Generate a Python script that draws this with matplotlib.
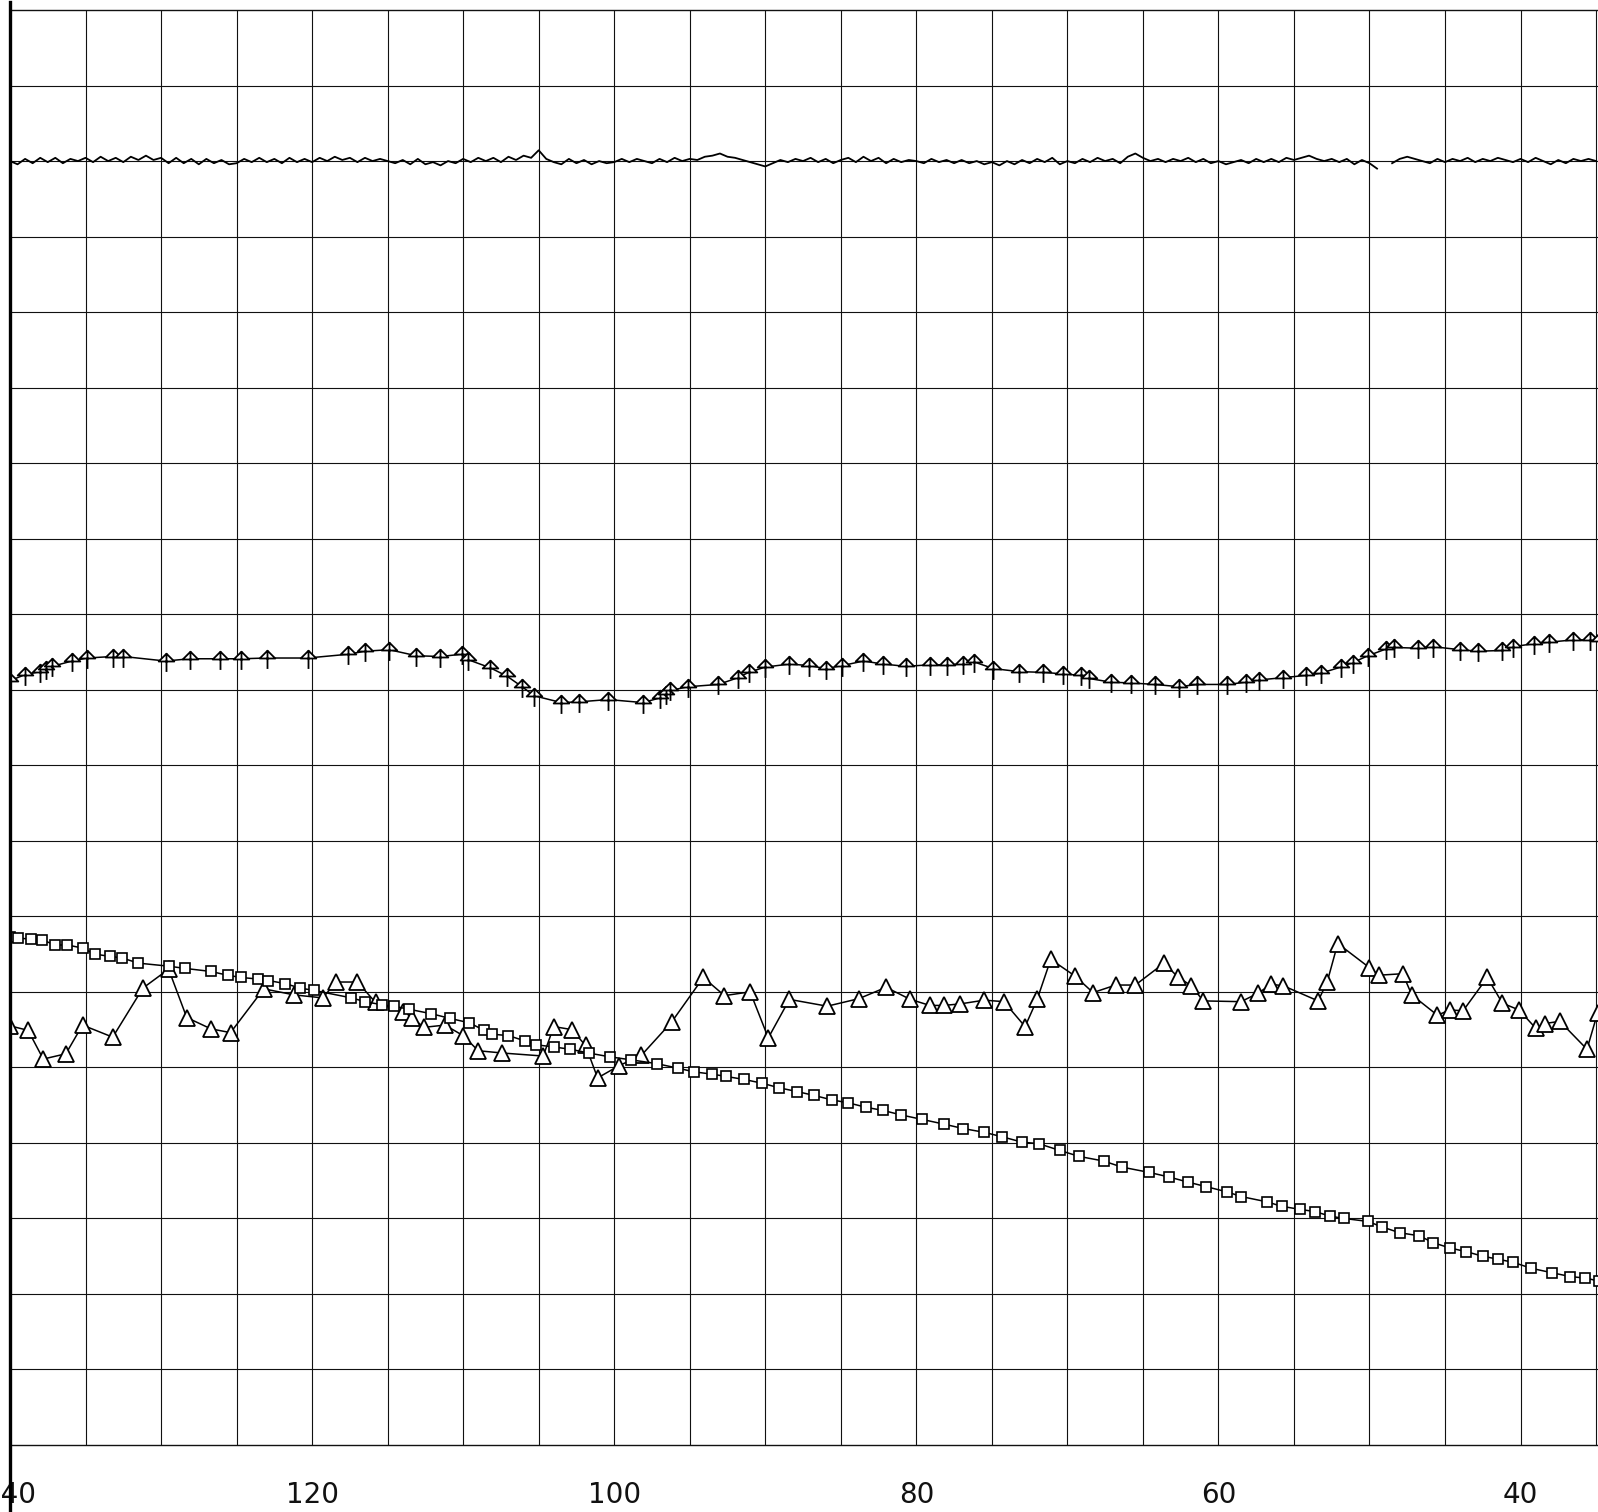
import numpy as np
import matplotlib
matplotlib.use("Agg")
import matplotlib.pyplot as plt
from matplotlib.path import Path
from matplotlib.lines import Line2D

# ---------------- data (x in plot units, y in grid-cell units) ----------------
tick_values = [140, 120, 100, 80, 60, 40]
tick_labels = ["140", "120", "100", "80", "60", "40"]

# top noisy trace: sampled every 0.5 units from 140 to 35, offsets in 1/70 cell from 17.0
trace_x = np.arange(140.0, 34.9, -0.5)
trace_base = 17.0
trace_offsets = [
    0, -3, 2, -2, 3, -1, 3, -2, 2, 0,
    3, -1, 4, 0, 3, -1, 4, 1, 5, 1,
    3, -2, 3, -2, 2, -3, 2, -2, 1, -3,
    -2, 2, -1, 3, -1, 2, -2, 3, -1, 2,
    -1, 3, 0, 4, 1, 3, -1, 3, 0, 2,
    0, -2, 1, -3, 2, -3, -1, -4, 0, -2,
    2, -1, 3, 0, 3, -1, 4, 1, 5, 3,
    10, 2, -1, -3, 2, -2, 1, -3, 0, -2,
    -1, 2, -1, 2, 0, -2, 2, -1, 3, 0,
    2, 1, 4, 5, 7, 4, 3, 1, -1, -3,
    -5, -2, 1, -1, 2, 0, 3, -1, 2, -2,
    1, 3, -1, 4, 0, 3, -2, 2, -1, 1,
    0, -2, 2, -1, 1, -2, 1, -2, 0, -3,
    -1, -4, 0, -3, 1, -2, 2, -1, 3, -3,
    0, -2, 2, -1, 3, 0, 2, -2, 4, 7,
    3, 0, 2, -1, 2, 0, 3, -1, 2, -2,
    0, -3, -1, 1, -2, 2, -1, 2, -1, 3,
    1, 3, 5, 2, 0, 2, -1, 2, -3, 1,
    -2, -7, np.nan, -2, 2, 4, 2, 0, -2, 2,
    -1, 2, 0, 3, -1, 2, 0, 3, 1, -1,
    2, -1, 3, 0, -3, 1, -2, 2, 0, 2,
    0,
]

# arrow-marker series
arrow_x = [140.0, 139.0, 138.0, 137.6, 137.2, 135.9, 134.9, 133.2, 132.5, 129.7,
           128.1, 126.1, 124.7, 123.0, 120.3, 117.6, 116.5, 114.9, 113.1, 111.5,
           110.1, 109.7, 108.2, 107.1, 106.1, 105.3, 103.5, 102.3, 100.4, 98.1,
           97.0, 96.6, 96.3, 95.1, 93.1, 91.8, 91.1, 90.0, 88.4, 87.1,
           86.0, 84.9, 83.5, 82.2, 80.7, 79.1, 78.0, 76.9, 76.2, 74.9,
           73.2, 71.6, 70.3, 69.1, 68.6, 67.1, 65.8, 64.2, 62.6, 61.4,
           59.4, 58.2, 57.3, 55.7, 54.2, 53.2, 51.9, 51.1, 50.1, 48.9,
           48.4, 46.8, 45.8, 44.0, 42.8, 41.2, 40.5, 39.1, 38.1, 36.5,
           35.4, 34.8]
arrow_y = [10.12, 10.20, 10.24, 10.27, 10.31, 10.38, 10.42, 10.44, 10.44, 10.38,
           10.41, 10.41, 10.41, 10.42, 10.42, 10.47, 10.51, 10.53, 10.45, 10.44,
           10.47, 10.40, 10.29, 10.18, 10.04, 9.92, 9.83, 9.84, 9.87, 9.83,
           9.89, 9.94, 9.99, 10.04, 10.07, 10.16, 10.23, 10.30, 10.34, 10.32,
           10.28, 10.32, 10.38, 10.34, 10.31, 10.33, 10.33, 10.34, 10.37, 10.28,
           10.24, 10.23, 10.21, 10.19, 10.15, 10.10, 10.09, 10.07, 10.04, 10.07,
           10.07, 10.10, 10.13, 10.16, 10.19, 10.22, 10.30, 10.36, 10.45, 10.54,
           10.56, 10.55, 10.57, 10.53, 10.51, 10.52, 10.57, 10.61, 10.63, 10.66,
           10.66, 10.65]

# triangle series
tri_x = [140.0, 138.8, 137.8, 136.3, 135.2, 133.2, 131.2, 129.5, 128.3, 126.7,
         125.4, 123.2, 121.2, 119.3, 118.4, 117.0, 115.8, 114.0, 113.4, 112.6,
         111.2, 110.0, 109.0, 107.4, 104.7, 104.0, 102.8, 101.9, 101.1, 99.7,
         98.2, 96.2, 94.1, 92.7, 91.0, 89.8, 88.4, 85.9, 83.8, 82.0,
         80.4, 79.1, 78.2, 77.1, 75.5, 74.2, 72.8, 72.0, 71.1, 69.5,
         68.3, 66.8, 65.5, 63.6, 62.7, 61.8, 61.0, 58.5, 57.4, 56.5,
         55.7, 53.4, 52.8, 52.1, 50.0, 49.4, 47.8, 47.2, 45.5, 44.7,
         43.8, 42.2, 41.2, 40.1, 39.0, 38.4, 37.4, 35.6, 34.9]
tri_y = [5.55, 5.49, 5.11, 5.18, 5.56, 5.40, 6.05, 6.30, 5.66, 5.51,
         5.46, 6.04, 5.96, 5.92, 6.13, 6.13, 5.86, 5.73, 5.66, 5.53,
         5.56, 5.42, 5.22, 5.19, 5.15, 5.54, 5.50, 5.29, 4.86, 5.02,
         5.16, 5.60, 6.19, 5.95, 6.00, 5.39, 5.90, 5.81, 5.91, 6.06,
         5.90, 5.82, 5.82, 5.84, 5.89, 5.87, 5.54, 5.90, 6.43, 6.21,
         5.99, 6.09, 6.09, 6.38, 6.20, 6.08, 5.88, 5.87, 5.98, 6.10,
         6.08, 5.88, 6.13, 6.64, 6.32, 6.22, 6.24, 5.96, 5.69, 5.76,
         5.75, 6.19, 5.85, 5.76, 5.52, 5.58, 5.61, 5.24, 5.72]

# square series
sq_x = [140.0, 139.5, 138.6, 137.9, 137.0, 136.2, 135.2, 134.4, 133.4, 132.6,
        131.5, 129.5, 128.4, 126.7, 125.6, 124.7, 123.6, 122.9, 121.8, 120.8,
        119.9, 117.4, 116.5, 115.4, 114.6, 113.6, 112.1, 110.9, 109.6, 108.6,
        108.1, 107.0, 105.9, 105.2, 104.0, 102.9, 101.7, 100.3, 98.9, 97.2,
        95.8, 94.7, 93.5, 92.6, 91.4, 90.2, 89.1, 87.9, 86.8, 85.6,
        84.5, 83.3, 82.2, 81.0, 79.6, 78.2, 76.9, 75.5, 74.3, 73.0,
        71.9, 70.5, 69.2, 67.6, 66.4, 64.6, 63.3, 62.0, 60.8, 59.4,
        58.5, 56.8, 55.8, 54.6, 53.6, 52.6, 51.7, 50.1, 49.2, 48.0,
        46.7, 45.8, 44.7, 43.6, 42.5, 41.5, 40.5, 39.3, 37.9, 36.7,
        35.7, 34.8]
sq_y = [6.72, 6.71, 6.70, 6.69, 6.62, 6.62, 6.58, 6.50, 6.47, 6.45,
        6.38, 6.34, 6.31, 6.27, 6.22, 6.19, 6.17, 6.15, 6.11, 6.05,
        6.02, 5.92, 5.87, 5.83, 5.81, 5.77, 5.71, 5.65, 5.59, 5.49,
        5.44, 5.42, 5.35, 5.30, 5.27, 5.24, 5.19, 5.14, 5.10, 5.05,
        4.99, 4.94, 4.91, 4.88, 4.84, 4.79, 4.73, 4.68, 4.63, 4.57,
        4.53, 4.47, 4.43, 4.37, 4.31, 4.25, 4.19, 4.14, 4.08, 4.01,
        3.99, 3.90, 3.82, 3.76, 3.68, 3.61, 3.55, 3.48, 3.42, 3.35,
        3.29, 3.22, 3.16, 3.12, 3.09, 3.03, 3.00, 2.96, 2.89, 2.81,
        2.77, 2.68, 2.61, 2.56, 2.50, 2.46, 2.42, 2.34, 2.28, 2.23,
        2.21, 2.17]

# ---------------- figure ----------------
W, H = 1598, 1512
fig = plt.figure(figsize=(W / 100, H / 100), dpi=100)
ax_left, ax_right = 10, 1598
ax_top, ax_bottom = 10, 1445
ax = fig.add_axes([ax_left / W, (H - ax_bottom) / H,
                   (ax_right - ax_left) / W, (ax_bottom - ax_top) / H])

cell_px = (ax_bottom - ax_top) / 19.0
x_right = 140 - (ax_right - ax_left) / cell_px * 5
ax.set_xlim(140, x_right)
ax.set_ylim(0, 19)

# grid
for xv in np.arange(135, 34, -5):
    ax.axvline(xv, color="#111111", lw=0.8, zorder=1)
for yv in range(1, 19):
    ax.axhline(yv, color="#111111", lw=0.8, zorder=1)

# top noisy trace
trace_y = trace_base + np.array(trace_offsets, dtype=float) / 70.0
ax.plot(trace_x, trace_y, color="black", lw=1.3, zorder=3)

# arrow marker: triangle head with vertical stem
verts = [(-0.75, 0.0), (0.0, 0.75), (0.75, 0.0), (-0.75, 0.0),
         (0.0, 0.75), (0.0, -1.0)]
codes = [Path.MOVETO, Path.LINETO, Path.LINETO, Path.CLOSEPOLY,
         Path.MOVETO, Path.LINETO]
arrow_marker = Path(verts, codes)
ax.plot(arrow_x, arrow_y, color="black", lw=1.1, zorder=3,
        marker=arrow_marker, markersize=15, markerfacecolor="white",
        markeredgecolor="black", markeredgewidth=1.3)

# triangle series
ax.plot(tri_x, tri_y, color="black", lw=1.1, zorder=3,
        marker="^", markersize=11, markerfacecolor="white",
        markeredgecolor="black", markeredgewidth=1.3)

# square series
ax.plot(sq_x, sq_y, color="black", lw=1.1, zorder=3,
        marker="s", markersize=6.5, markerfacecolor="white",
        markeredgecolor="black", markeredgewidth=1.2)

# axes styling
ax.set_yticks([])
ax.set_xticks(tick_values)
ax.set_xticklabels(tick_labels, fontsize=20, color="#111111")
ax.tick_params(axis="x", length=0, pad=26)
ax.spines["right"].set_visible(False)
for side in ("top", "bottom", "left"):
    ax.spines[side].set_linewidth(1.0)
    ax.spines[side].set_color("#111111")

# thick left border running the full height of the sheet
fig.add_artist(Line2D([10 / W, 10 / W], [0, 1 - 2 / H], transform=fig.transFigure,
                      color="black", lw=2.4))

fig.savefig("out.png", dpi=100, facecolor="white")
